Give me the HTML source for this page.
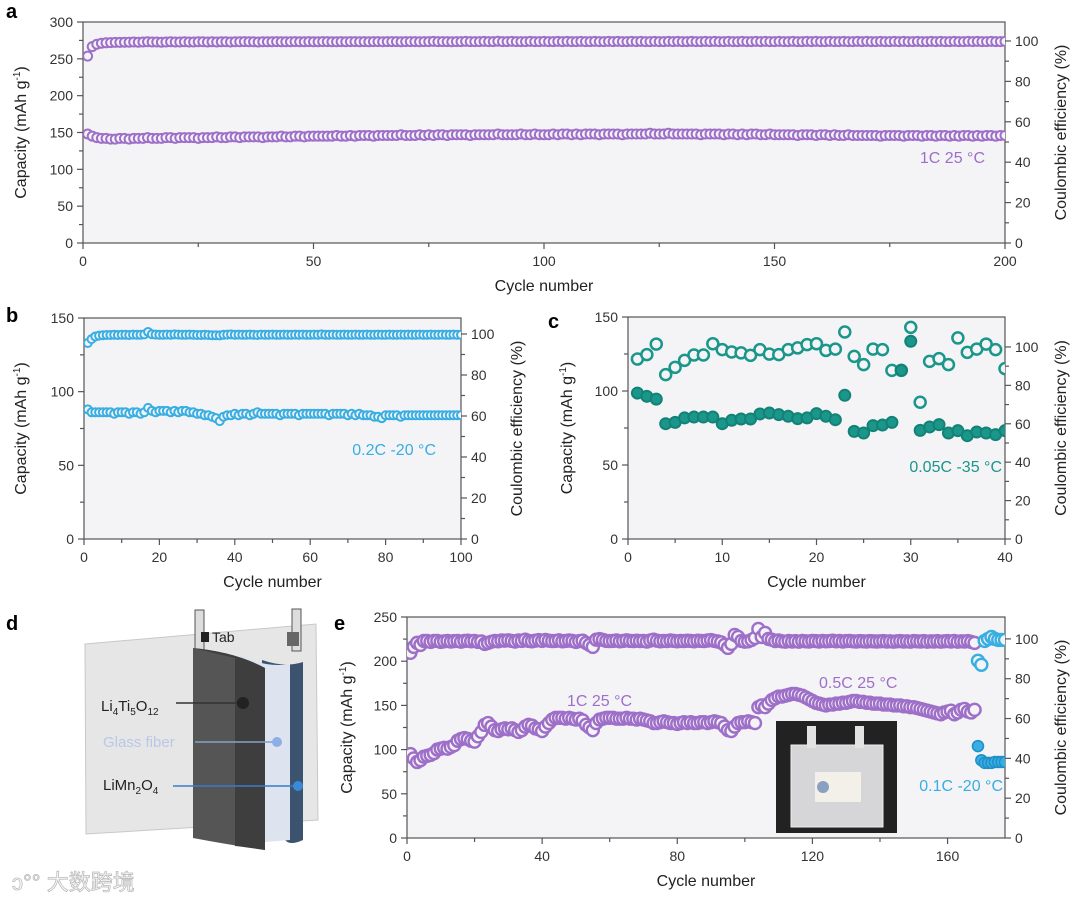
<!DOCTYPE html>
<html><head><meta charset="utf-8"><style>
body{margin:0;background:#fff;}
svg text{font-family:"Liberation Sans","Noto Sans CJK SC",sans-serif;}
</style></head><body>
<svg id="fig" width="1080" height="901" viewBox="0 0 1080 901" xmlns="http://www.w3.org/2000/svg">
<g id="panel-d">
  <polygon points="85,644 316,624 318,820 86,834" fill="#e6e6e6" stroke="#c8c8c8"/>
  <rect x="195" y="610" width="9" height="42" fill="#ddd" stroke="#555"/>
  <rect x="292" y="609" width="9" height="42" fill="#ddd" stroke="#555"/>
  <rect x="287" y="632" width="12" height="14" fill="#666"/>
  <rect x="201" y="632" width="8" height="10" fill="#222"/>
  <path d="M262,660 Q285,668 303,662 L303,840 Q290,846 285,840 L262,838 Z" fill="#3c5370"/>
  <path d="M240,655 Q265,668 290,664 L290,840 L265,842 L240,840 Z" fill="#dde3ef"/>
  <path d="M193,648 Q235,652 265,668 L265,850 Q230,845 193,838 Z" fill="#555"/>
  <path d="M193,648 Q235,652 265,668 L265,850 Q245,847 235,846 L235,658 Z" fill="#3e3e3e"/>
  <text x="212" y="642" font-size="14" fill="#222">Tab</text>
  <text x="101" y="711" font-size="15" fill="#222">Li<tspan font-size="10" dy="4">4</tspan><tspan dy="-4">Ti</tspan><tspan font-size="10" dy="4">5</tspan><tspan dy="-4">O</tspan><tspan font-size="10" dy="4">12</tspan></text>
  <line x1="176" y1="703" x2="243" y2="703" stroke="#333" stroke-width="1.5"/>
  <circle cx="243" cy="703" r="6" fill="#222"/>
  <text x="103" y="747" font-size="15" fill="#b8c8e6">Glass fiber</text>
  <line x1="195" y1="742" x2="277" y2="742" stroke="#8aa0c8" stroke-width="1.5"/>
  <circle cx="277" cy="742" r="5" fill="#8eaee8"/>
  <text x="103" y="790" font-size="15" fill="#222">LiMn<tspan font-size="10" dy="4">2</tspan><tspan dy="-4">O</tspan><tspan font-size="10" dy="4">4</tspan></text>
  <line x1="173" y1="786" x2="298" y2="786" stroke="#3a7bc8" stroke-width="1.5"/>
  <circle cx="298" cy="786" r="5" fill="#3a8ad8"/>
  <text x="12" y="890" font-size="22" fill="#fff" stroke="#bbb" stroke-width="0.8">ↄ°° 大数跨境</text>
</g>
<text x="6" y="18" font-size="20" font-weight="bold">a</text>
<text x="6" y="322" font-size="20" font-weight="bold">b</text>
<text x="548" y="328" font-size="20" font-weight="bold">c</text>
<text x="6" y="630" font-size="20" font-weight="bold">d</text>
<text x="334" y="630" font-size="20" font-weight="bold">e</text>
</svg>
<script>
// ---------- Panel a data ----------
const capA=[148,145,143,142,142,141,141,142,142,141,142,142,142,143,142,142,142,143,143,142,
143,143,143,143,142,143,143,143,144,143,143,144,144,143,144,144,144,144,143,144,
144,144,145,144,144,145,145,144,145,145,145,145,145,145,146,145,145,146,145,146,
146,146,145,146,146,146,146,146,147,146,146,146,147,146,147,146,147,147,146,147,
147,147,147,146,147,147,147,147,147,148,147,147,147,147,148,147,147,148,147,147,
147,148,147,148,148,147,148,147,148,148,148,147,148,148,148,148,147,148,148,148,
148,148,149,148,148,148,149,148,148,148,148,148,148,147,148,148,148,148,147,148,
148,147,148,147,148,148,147,147,148,147,147,147,147,147,146,147,147,147,146,147,
147,146,147,146,146,147,146,146,146,146,146,146,145,146,146,146,146,145,146,146,
146,145,146,146,145,146,146,145,146,145,146,146,145,146,145,146,146,145,146,146];
const ceA=[92.5,97.2,98.4,98.9,99.1,99.2,99.3,99.3,99.4,99.4,99.5,99.4,99.5,99.6,99.5,99.5,99.4,99.5,99.6,99.5,
99.5,99.6,99.5,99.5,99.6,99.6,99.5,99.6,99.5,99.6,99.6,99.5,99.6,99.6,99.7,99.6,99.6,99.5,99.6,99.6,
99.6,99.7,99.6,99.6,99.6,99.7,99.6,99.6,99.7,99.6,99.6,99.7,99.7,99.6,99.6,99.7,99.6,99.7,99.7,99.6,
99.7,99.6,99.7,99.7,99.6,99.7,99.7,99.7,99.6,99.7,99.7,99.7,99.6,99.7,99.7,99.8,99.7,99.7,99.7,99.6,
99.7,99.7,99.8,99.7,99.7,99.7,99.8,99.7,99.7,99.9,99.7,99.7,99.8,99.7,99.7,99.7,99.8,99.7,99.7,99.8,
99.7,99.7,99.8,99.7,99.8,99.7,99.7,99.8,99.7,99.7,99.8,99.7,99.7,99.8,99.7,99.8,99.7,99.7,99.8,99.7,
99.8,99.7,99.7,99.8,99.7,99.7,99.8,99.7,99.8,99.7,99.7,99.8,99.7,99.7,99.8,99.7,99.8,99.7,99.7,99.8,
99.7,99.7,99.8,99.7,99.7,99.8,99.7,99.8,99.7,99.7,99.8,99.7,99.7,99.8,99.7,99.7,99.8,99.7,99.8,99.7,
99.7,99.8,99.7,99.7,99.8,99.7,99.7,99.8,99.7,99.8,99.7,99.7,99.8,99.7,99.7,99.8,99.7,99.8,99.7,99.7,
99.8,99.7,99.7,99.8,99.7,99.8,99.7,99.7,99.8,99.7,99.7,99.8,99.7,99.8,99.7,99.7,99.8,99.7,99.7,99.8];
// ---------- Panel b data ----------
const capB=[88,86,86,86,86,86,86,85,86,86,86,85,86,86,85,86,89,87,86,87,
87,87,86,87,86,87,87,86,86,85,85,84,84,83,82,80,83,84,84,85,
84,85,85,84,85,86,85,85,85,85,85,84,85,85,85,85,84,85,85,85,
85,85,85,85,84,85,85,85,85,84,85,84,85,84,84,84,83,83,82,84,
84,84,84,83,84,84,84,84,84,84,84,84,84,84,84,84,84,84,84,84];
const ceB=[95.6,97.5,98.8,99.2,99.4,99.5,99.5,99.6,99.5,99.6,99.6,99.5,99.7,99.6,99.6,99.8,101,99.9,99.7,99.6,
99.6,99.7,99.6,99.8,99.7,99.6,99.6,99.7,99.6,99.5,99.5,99.6,99.5,99.4,99.4,99.3,99.6,99.7,99.8,99.6,
99.7,99.6,99.6,99.7,99.6,99.5,99.7,99.6,99.6,99.7,99.6,99.6,99.7,99.6,99.6,99.7,99.6,99.7,99.6,99.6,
99.7,99.6,99.8,99.6,99.6,99.7,99.6,99.6,99.7,99.6,99.6,99.7,99.6,99.6,99.7,99.6,99.6,99.7,99.6,99.6,
99.7,99.6,99.6,99.7,99.6,99.7,99.6,99.6,99.7,99.6,99.6,99.7,99.6,99.6,99.7,99.6,99.6,99.7,99.6,99.6];
// ---------- Panel c data ----------
const capC=[98.6,96.4,94.5,77.9,78.8,81.8,82.4,82.4,82.4,77.9,80.2,81.1,81.1,84.5,85.1,84.0,82.9,81.3,81.8,84.7,
82.9,80.6,97.1,72.7,71.6,76.6,77.0,78.8,114,133.6,73.4,75.7,77.3,71.6,73.2,69.8,72.3,71.6,70.5,73.2];
const ceC=[93.7,96.0,101.5,85.6,89.4,93.0,95.8,95.8,101.7,98.6,97.4,96.9,95.6,98.6,96.3,96.0,98.6,99.5,101.2,101.7,
98.2,98.9,107.8,95.1,90.8,98.9,98.6,87.8,87.8,110.2,71.2,92.5,93.9,90.8,104.7,97.2,98.9,101.5,98.6,88.7];
// ---------- Panel e data ----------
const capE1=[95,90,86,88,92,93,94,96,100,101,102,101,103,105,110,112,113,112,110,109,
115,120,128,130,126,122,121,123,124,123,124,122,120,122,126,128,127,124,123,121,
126,130,134,136,136,136,135,136,135,134,135,133,128,125,122,130,134,135,136,136,
136,135,135,135,136,135,135,134,135,134,133,132,130,130,131,132,131,130,130,129,
130,131,130,131,130,130,131,131,130,131,132,131,130,126,122,121,126,130,131,131,
132,131,130,148,150,148,152,156,158,160,160,161,162,163,163,162,161,159,157,155,
153,152,151,150,151,151,152,152,153,153,154,155,155,154,154,153,153,152,152,152,
151,151,151,150,150,150,149,149,148,148,147,146,145,144,143,142,141,140,142,143,
144,140,142,145,146,143,142,145];
const ceE1=[93,96,98,97,99,99,98.5,99,99,98.5,98.8,99,98.7,98.9,99,98.6,99,99.1,98.8,99,
98.5,98.7,97.5,98,98.6,99,98.8,99.2,99.1,99.3,99,98.7,99.2,99,99.6,99,98.8,99.1,99.4,99,
99.5,99.1,98.9,99,99.3,98.8,99,99.2,99,98.5,98.9,99.1,98,97,96,99.6,99.9,99.5,99,98.9,
99,99.2,98.8,99,99.3,99,98.9,99.1,98.9,99,98.7,99.2,99.6,99.1,98.8,99,98.9,99.2,99,98.8,
99,98.9,99.1,99,98.8,99.1,99,98.9,99.2,99.4,99,98.7,98.2,97,95.5,97.5,102,101,99,98.6,
98.8,99.5,100.5,105,101,103,100,99.6,98.9,99.2,98.8,98.6,99,98.7,98.9,98.6,99,98.8,98.7,99,
98.9,98.7,99,98.8,98.9,99.1,98.8,99,98.7,98.9,99,98.8,98.7,98.9,98.8,98.7,98.9,98.8,98.7,98.8,
98.9,98.7,98.8,98.6,98.8,98.9,98.7,98.8,98.6,98.9,98.8,98.7,98.9,98.6,98.8,98.7,98.9,98.6,98.8,98.9,
98.7,99,98.6,98.8,98.7,98.9,98.5,98];
const capE2=[104,88,85,85,85,86,86,86,86];
const ceE2=[89,87,99,100,101,100,99.5,99.5,99.5];

const svg=document.getElementById('fig');
const NS='http://www.w3.org/2000/svg';
function mk(tag,attrs,parent){const e=document.createElementNS(NS,tag);for(const k in attrs)e.setAttribute(k,attrs[k]);(parent||svg).appendChild(e);return e;}

function panel(P){
  const g=mk('g',{});
  
  
  const X=v=>P.L+(v-P.xmin)/(P.xmax-P.xmin)*(P.R-P.L);
  const Y=v=>P.B-v/P.ymax*(P.B-P.T);
  const Y2=v=>P.B-v/P.y2max*(P.B-P.T);
  const bg=mk('rect',{x:P.L,y:P.T,width:P.R-P.L,height:P.B-P.T,fill:'#f4f4f7',stroke:'#555','stroke-width':1.2},g);
  
  
  for(let v=P.xmin;v<=P.xmax+1e-9;v+=P.xminor){
    const major=Math.abs(v/P.xstep-Math.round(v/P.xstep))<1e-6;
    mk('line',{x1:X(v),x2:X(v),y1:P.B,y2:P.B+(major?6:4),stroke:'#555','stroke-width':1.2},g);
    if(major){const t=mk('text',{x:X(v),y:P.B+23,'font-size':14,'text-anchor':'middle',fill:'#333'},g);t.textContent=v;
      }
  }
  for(let v=0;v<=P.ymax+1e-9;v+=P.yminor){
    const major=Math.abs(v/P.ystep-Math.round(v/P.ystep))<1e-6;
    mk('line',{x1:P.L,x2:P.L-(major?6:4),y1:Y(v),y2:Y(v),stroke:'#555','stroke-width':1.2},g);
    if(major){const t=mk('text',{x:P.L-10,y:Y(v)+5,'font-size':14,'text-anchor':'end',fill:'#333'},g);t.textContent=v;
      }
  }
  for(let v=0;v<=100;v+=10){
    const major=v%20===0;
    mk('line',{x1:P.R,x2:P.R+(major?6:4),y1:Y2(v),y2:Y2(v),stroke:'#555','stroke-width':1.2},g);
    if(major){const t=mk('text',{x:P.R+10,y:Y2(v)+5,'font-size':14,fill:'#333'},g);t.textContent=v;
      }
  }
  const xt=mk('text',{x:(P.L+P.R)/2,y:P.B+48,'font-size':16,'text-anchor':'middle',fill:'#222'},g);
  xt.textContent='Cycle number';
  
  
  const cy=(P.T+P.B)/2;
  const yt=mk('text',{x:P.ylx,y:cy,'font-size':16,'text-anchor':'middle',fill:'#222',transform:`rotate(-90 ${P.ylx} ${cy})`},g);
  yt.innerHTML='Capacity (mAh g<tspan font-size="10" dy="-6">-1</tspan><tspan dy="6">)</tspan>';
  
  
  const yt2=mk('text',{x:P.y2lx,y:cy,'font-size':16,'text-anchor':'middle',fill:'#222',transform:`rotate(-90 ${P.y2lx} ${cy})`},g);
  yt2.textContent='Coulombic efficiency (%)';
  
  
  const clip='clip-'+P.name;
  const cp=mk('clipPath',{id:clip},g);mk('rect',{x:P.L,y:P.T,width:P.R-P.L,height:P.B-P.T},cp);
  const mg=mk('g',{'clip-path':`url(#${clip})`},g);
  if(P.inset)P.inset(mg);
  P.series.forEach(s=>{
    s.data.forEach((v,i)=>{
      const c=mk('circle',{cx:X(s.start+i),cy:s.axis2?Y2(v):Y(v),r:s.r,fill:s.filled?s.color:'#f4f4f7',stroke:s.stroke||s.color,'stroke-width':s.sw},mg);
      
      
    });
  });
  P.notes.forEach(n=>{const t=mk('text',{x:n[0],y:n[1],'font-size':16,fill:n[3],'text-anchor':n[4]||'start'},g);t.textContent=n[2];
    });
  return g;
}
const PUR='#9e6fc8',BLU='#38aee2',TEA='#1a968a';
panel({name:'panel-a',L:83,R:1005,T:22,B:243,xmin:0,xmax:200,xstep:50,xminor:25,ymax:300,ystep:50,yminor:25,y2max:109.4,ylx:26,y2lx:1066,
  series:[{data:capA,start:1,color:PUR,r:4.5,sw:2,label:'capacity-point'},{data:ceA,start:1,axis2:true,color:PUR,r:4.5,sw:2,label:'ce-point'}],
  notes:[[985,163,'1C 25 °C',PUR,'end']]});
panel({name:'panel-b',L:84,R:461,T:318,B:539,xmin:0,xmax:100,xstep:20,xminor:10,ymax:150,ystep:50,yminor:25,y2max:107.8,ylx:26,y2lx:522,
  series:[{data:capB,start:1,color:BLU,r:4,sw:2,label:'capacity-point'},{data:ceB,start:1,axis2:true,color:BLU,r:4,sw:2,label:'ce-point'}],
  notes:[[436,455,'0.2C -20 °C',BLU,'end']]});
panel({name:'panel-c',L:628,R:1005,T:317,B:539,xmin:0,xmax:40,xstep:10,xminor:5,ymax:150,ystep:50,yminor:25,y2max:115.6,ylx:572,y2lx:1066,
  series:[{data:ceC,start:1,axis2:true,color:TEA,r:5.5,sw:2.5,label:'ce-point'},{data:capC,start:1,color:TEA,stroke:'#138276',r:5.5,sw:2,filled:true,label:'capacity-point'}],
  notes:[[1002,472,'0.05C -35 °C',TEA,'end']]});
panel({name:'panel-e',L:407,R:1005,T:617,B:838,xmin:0,xmax:177,xstep:40,xminor:20,ymax:250,ystep:50,yminor:25,y2max:111,ylx:352,y2lx:1066,
  series:[{data:capE1,start:1,color:PUR,r:6,sw:2.4,label:'capacity-point'},{data:ceE1,start:1,axis2:true,color:PUR,r:6,sw:2.4,label:'ce-point'},
          {data:capE2,start:169,color:BLU,stroke:'#1e8fc8',filled:true,r:5.5,sw:1.5,label:'capacity-point-low-temp'},{data:ceE2,start:169,axis2:true,color:BLU,r:6,sw:2.4,label:'ce-point-low-temp'}],
  notes:[[567,706,'1C 25 °C',PUR],[819,688,'0.5C 25 °C',PUR],[1003,791,'0.1C -20 °C',BLU,'end']],
  inset:function(par){
    const inset=mk('g',{},par);
    
    
    mk('rect',{x:776,y:721,width:121,height:112,fill:'#222'},inset);
    mk('rect',{x:791,y:745,width:92,height:82,fill:'#d6d6d8',stroke:'#eee'},inset);
    mk('rect',{x:807,y:726,width:9,height:22,fill:'#e2e2e2'},inset);
    mk('rect',{x:855,y:726,width:9,height:22,fill:'#e2e2e2'},inset);
    mk('rect',{x:815,y:772,width:46,height:30,fill:'#f2f0e8'},inset);
    mk('circle',{cx:823,cy:787,r:6,fill:'#8aa0c0'},inset);
  }});
</script>
</body></html>
